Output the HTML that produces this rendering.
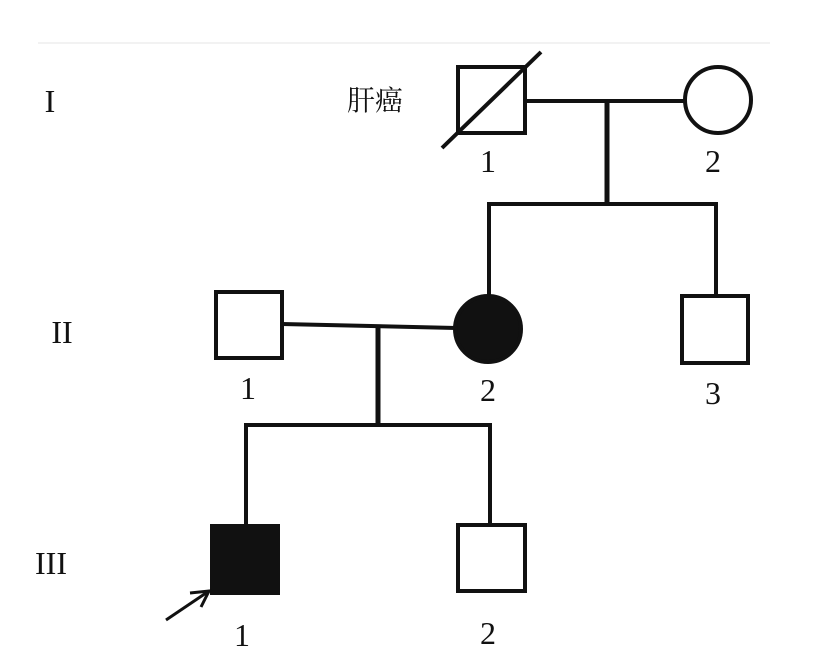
<!DOCTYPE html>
<html><head><meta charset="utf-8"><style>
html,body{margin:0;padding:0;background:#fff;}
svg{display:block;}
text{font-family:"Liberation Serif","Noto Serif CJK SC",serif;fill:#111;}
</style></head><body>
<svg width="826" height="655" viewBox="0 0 826 655" xmlns="http://www.w3.org/2000/svg">
<rect width="826" height="655" fill="#fff"/>
<line x1="38" y1="43" x2="770" y2="43" stroke="#f2f2f2" stroke-width="2"/>
<g stroke="#111" stroke-width="4" fill="none">
<!-- Gen I -->
<rect x="458" y="67" width="67" height="66" fill="#fff"/>
<line x1="442" y1="148" x2="541" y2="52"/>
<circle cx="718" cy="100" r="33" fill="#fff"/>
<line x1="525" y1="101" x2="685" y2="101"/>
<line x1="607" y1="101" x2="607" y2="204" stroke-width="5"/>
<line x1="489" y1="204" x2="718" y2="204"/>
<line x1="489" y1="202" x2="489" y2="296"/>
<line x1="716" y1="202" x2="716" y2="296"/>
<!-- Gen II -->
<rect x="216" y="292" width="66" height="66" fill="#fff"/>
<circle cx="488" cy="329" r="33" fill="#111"/>
<rect x="682" y="296" width="66" height="67" fill="#fff"/>
<line x1="282" y1="324" x2="456" y2="328"/>
<line x1="378" y1="326" x2="378" y2="426" stroke-width="5"/>
<line x1="246" y1="425" x2="491" y2="425"/>
<line x1="246" y1="423" x2="246" y2="527"/>
<line x1="490" y1="423" x2="490" y2="525"/>
<!-- Gen III -->
<rect x="212" y="526" width="66" height="67" fill="#111"/>
<rect x="458" y="525" width="67" height="66" fill="#fff"/>
<line x1="166" y1="620" x2="209" y2="591" stroke-width="3"/>
<polyline points="190,593 209,591 201,607" stroke-width="3"/>
</g>
<g font-size="32" text-anchor="middle">
<text x="50" y="112">I</text>
<text x="62" y="343">II</text>
<text x="51" y="574">III</text>
<text x="488" y="172">1</text>
<text x="713" y="172">2</text>
<text x="248" y="399">1</text>
<text x="488" y="401">2</text>
<text x="713" y="404">3</text>
<text x="242" y="646">1</text>
<text x="488" y="644">2</text>
</g>
<text x="375" y="110" font-size="28" text-anchor="middle">肝癌</text>
</svg>
</body></html>
